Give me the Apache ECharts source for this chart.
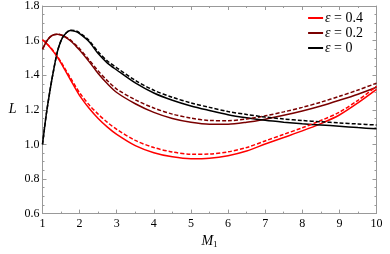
<!DOCTYPE html>
<html><head><meta charset="utf-8">
<script src="https://cdn.jsdelivr.net/npm/echarts@6/dist/echarts.min.js"></script>
<style>html,body{margin:0;padding:0;background:#fff}#c{width:390px;height:254px}</style>
</head><body><div id="c"></div>
<script>
const M = [1,1.1,1.2,1.3,1.4,1.5,1.6,1.75,1.9,2,2.25,2.5,2.75,3,3.5,4,4.5,5,5.5,6,6.5,7,7.5,8,8.5,9,9.5,10];
const eps0Solid  = [1.00,1.17,1.31,1.43,1.535,1.60,1.635,1.658,1.652,1.640,1.595,1.525,1.47,1.43,1.355,1.297,1.255,1.222,1.196,1.172,1.154,1.139,1.128,1.119,1.112,1.105,1.097,1.09];
const eps0Dash   = [1.00,1.17,1.31,1.43,1.535,1.60,1.636,1.66,1.656,1.645,1.602,1.535,1.482,1.443,1.37,1.313,1.272,1.24,1.214,1.19,1.173,1.158,1.147,1.138,1.131,1.124,1.118,1.112];
const eps02Solid = [1.55,1.592,1.62,1.634,1.637,1.632,1.622,1.60,1.568,1.545,1.48,1.41,1.35,1.30,1.235,1.185,1.15,1.128,1.117,1.117,1.128,1.146,1.168,1.193,1.222,1.255,1.29,1.33];
const eps02Dash  = [1.55,1.592,1.62,1.634,1.637,1.633,1.624,1.604,1.574,1.553,1.49,1.425,1.368,1.32,1.258,1.21,1.175,1.152,1.138,1.137,1.147,1.165,1.188,1.214,1.244,1.278,1.314,1.354];
const eps04Solid = [1.605,1.585,1.562,1.535,1.505,1.47,1.432,1.375,1.318,1.282,1.21,1.15,1.10,1.058,0.993,0.952,0.928,0.917,0.92,0.935,0.962,1.002,1.04,1.078,1.12,1.17,1.24,1.318];
const eps04Dash  = [1.605,1.586,1.564,1.538,1.509,1.476,1.44,1.386,1.332,1.298,1.23,1.175,1.127,1.087,1.023,0.982,0.956,0.943,0.944,0.957,0.982,1.02,1.058,1.096,1.138,1.186,1.255,1.336];
const legendNames = ['ε = 0.4','ε = 0.2','ε = 0'];
const xTicks = {min:1, max:10, interval:1};
const yTicks = {min:0.6, max:1.8, interval:0.2};

const RED='#ff0000', DRED='#7a0000', BLK='#000000';
const FONT='Liberation Serif';
const pts = arr => M.map((m,i)=>[m,arr[i]]);
function ser(name, arr, color, dashed){
  return {name, type:'line', data:pts(arr), smooth:0.3, symbol:'none', silent:true,
    lineStyle:{color, width:1.5, type: dashed ? [4,2] : 'solid'}, itemStyle:{color}, z: dashed?3:2};
}
const axisLineStyle={lineStyle:{color:'#999', width:1}};
const chart = echarts.init(document.getElementById('c'), null, {renderer:'canvas'});
chart.setOption({
  animation:false,
  grid:{left:42.5, right:13.5, top:4, bottom:27, containLabel:false},
  legend:{orient:'vertical', right:22, top:6, icon:'rect', itemWidth:15, itemHeight:2, itemGap:1,
    data:legendNames,
    textStyle:{fontFamily:FONT, fontSize:14, color:'#000', padding:[0,0,0,-3],
      rich:{i:{fontFamily:FONT,fontStyle:'italic',fontSize:14}}},
    formatter: n => '{i|ε}' + n.slice(1)},
  xAxis:[
    {type:'value', min:xTicks.min, max:xTicks.max, interval:xTicks.interval, position:'bottom',
     axisLine:axisLineStyle, splitLine:{show:false},
     axisTick:{inside:true, length:4, lineStyle:{color:'#999'}},
     minorTick:{show:true, splitNumber:2, length:2, lineStyle:{color:'#999'}},
     axisLabel:{fontFamily:FONT, fontSize:12, color:'#000', margin:4},
     name:'{m|M}{s|1}', nameLocation:'middle', nameGap:15,
     nameTextStyle:{rich:{m:{fontFamily:FONT,fontStyle:'italic',fontSize:14,color:'#000'},
       s:{fontFamily:FONT,fontSize:9,color:'#000',verticalAlign:'bottom',padding:[6,0,0,0]}}}},
    {type:'value', min:xTicks.min, max:xTicks.max, interval:xTicks.interval, position:'top',
     axisLine:axisLineStyle, splitLine:{show:false},
     axisTick:{inside:true, length:4, lineStyle:{color:'#999'}},
     minorTick:{show:true, splitNumber:2, length:2, lineStyle:{color:'#999'}},
     axisLabel:{show:false}}
  ],
  yAxis:[
    {type:'value', min:yTicks.min, max:yTicks.max, interval:yTicks.interval, position:'left',
     axisLine:{show:true, lineStyle:{color:'#999'}}, splitLine:{show:false},
     axisTick:{inside:true, length:4, lineStyle:{color:'#999'}},
     minorTick:{show:true, splitNumber:4, length:2, lineStyle:{color:'#999'}},
     axisLabel:{fontFamily:FONT, fontSize:12, color:'#000', margin:3, formatter:v=>v.toFixed(1)},
     name:'L', nameLocation:'middle', nameGap:26, nameRotate:0,
     nameTextStyle:{fontFamily:FONT, fontStyle:'italic', fontSize:14, color:'#000'}},
    {type:'value', min:yTicks.min, max:yTicks.max, interval:yTicks.interval, position:'right',
     axisLine:{show:true, lineStyle:{color:'#999'}}, splitLine:{show:false},
     axisTick:{inside:true, length:4, lineStyle:{color:'#999'}},
     minorTick:{show:true, splitNumber:4, length:2, lineStyle:{color:'#999'}},
     axisLabel:{show:false}}
  ],
  series:[
    ser('ε = 0.4', eps04Solid, RED, false),
    ser('ε = 0.4 dashed', eps04Dash, RED, true),
    ser('ε = 0.2', eps02Solid, DRED, false),
    ser('ε = 0.2 dashed', eps02Dash, DRED, true),
    ser('ε = 0', eps0Solid, BLK, false),
    ser('ε = 0 dashed', eps0Dash, BLK, true)
  ]
});
</script></body></html>
